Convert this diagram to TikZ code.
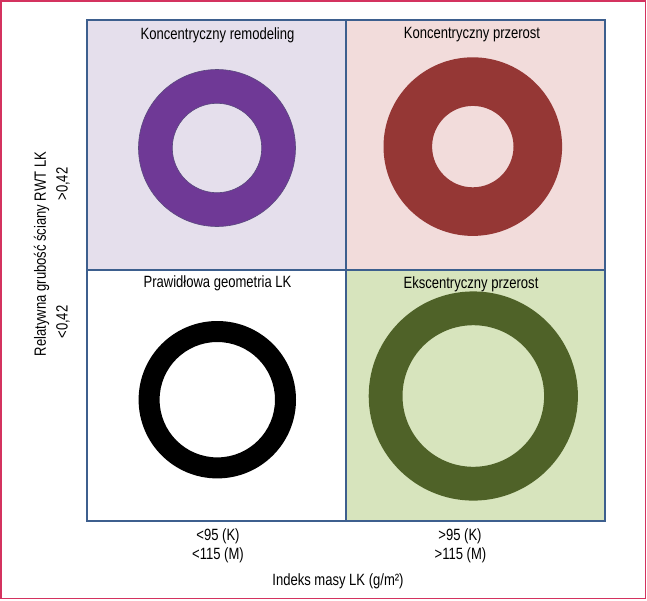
\documentclass[tikz,border=0pt]{standalone}
\usepackage{fontspec}
\setmainfont{Liberation Sans}[FakeStretch=0.8]

\definecolor{fondViolet}{HTML}{E5DFEC}
\definecolor{fondRose}{HTML}{F2DCDB}
\definecolor{fondVert}{HTML}{D7E4BD}
\definecolor{anneauViolet}{HTML}{6F3996}
\definecolor{contourViolet}{HTML}{5A4A7E}
\definecolor{anneauRouge}{HTML}{953735}
\definecolor{anneauVert}{HTML}{4F6228}
\definecolor{grilleBleu}{HTML}{3D5F8E}
\definecolor{cadreRouge}{HTML}{D4325F}

\tikzset{
  titre/.style={font=\fontsize{16.3}{18}\selectfont, anchor=center, inner sep=0pt},
  legende/.style={font=\fontsize{16.3}{18}\selectfont, anchor=center, inner sep=0pt},
  grille/.style={draw=grilleBleu, line width=2pt},
  cadre/.style={draw=cadreRouge, line width=1.8pt},
}

\begin{document}
\begin{tikzpicture}[x=1pt,y=-1pt]
    \pgfmathsetmacro{\xg}{87}     % bord gauche de la grille
    \pgfmathsetmacro{\xm}{346}    % séparation verticale
    \pgfmathsetmacro{\xd}{605}    % bord droit
    \pgfmathsetmacro{\yh}{20}     % bord haut
    \pgfmathsetmacro{\ym}{270}    % séparation horizontale
    \pgfmathsetmacro{\yb}{521}    % bord bas

    \useasboundingbox (0,0) rectangle (647,600);
    \draw[cadre] (1,1) rectangle (645.5,598.5);

    % Fonds des quadrants
    \fill[fondViolet] (\xg,\yh) rectangle (\xm,\ym);
    \fill[fondRose] (\xm,\yh) rectangle (\xd,\ym);
    \fill[white] (\xg,\ym) rectangle (\xm,\yb);
    \fill[fondVert] (\xm,\ym) rectangle (\xd,\yb);

    % Anneaux : centre, rayon extérieur, rayon intérieur, couleur
    \foreach \cx/\cy/\R/\r/\coul in {217/148/78.5/44.7/anneauViolet,
                                     472.8/146.6/89.3/40.7/anneauRouge,
                                     217.3/399.7/78.7/57.7/black,
                                     473.3/396/104.6/70.8/anneauVert}{
        \fill[\coul, even odd rule] (\cx,\cy) circle[radius=\R pt] (\cx,\cy) circle[radius=\r pt];
    }
    \draw[contourViolet, line width=0.6pt] (217,148) circle[radius=78.5pt] (217,148) circle[radius=44.7pt];

    % Grille
    \draw[grille] (\xg,\yh) rectangle (\xd,\yb);
    \draw[grille] (\xm,\yh) -- (\xm,\yb);
    \draw[grille] (\xg,\ym) -- (\xd,\ym);

    % Titres
    \node[titre] (tytulKR) at (217.5,35) {Koncentryczny remodeling};
    \node[titre] (tytulKP) at (472,35) {Koncentryczny przerost};
    \node[titre] (tytulPG) at (217.5,283.5) {Prawidłowa geometria LK};
    \node[titre] (tytulEP) at (471,284) {Ekscentryczny przerost};

    % Axe vertical
    \node[legende, rotate=90] (osY) at (41.5,254) {Relatywna grubość ściany RWT LK};
    \node[legende, rotate=90] (rwtWys) at (63,184) {>0,42};
    \node[legende, rotate=90] (rwtNis) at (63,322) {<0,42};

    % Axe horizontal
    \node[legende] (lmiK) at (218,536) {<95 (K)};
    \node[legende] (lmiM) at (218,555) {<115 (M)};
    \node[legende] (lmiKw) at (460,536) {>95 (K)};
    \node[legende] (lmiMw) at (460.5,555) {>115 (M)};
    \node[legende] (osX) at (338,581) {Indeks masy LK (g/m²)};
\end{tikzpicture}
\end{document}
